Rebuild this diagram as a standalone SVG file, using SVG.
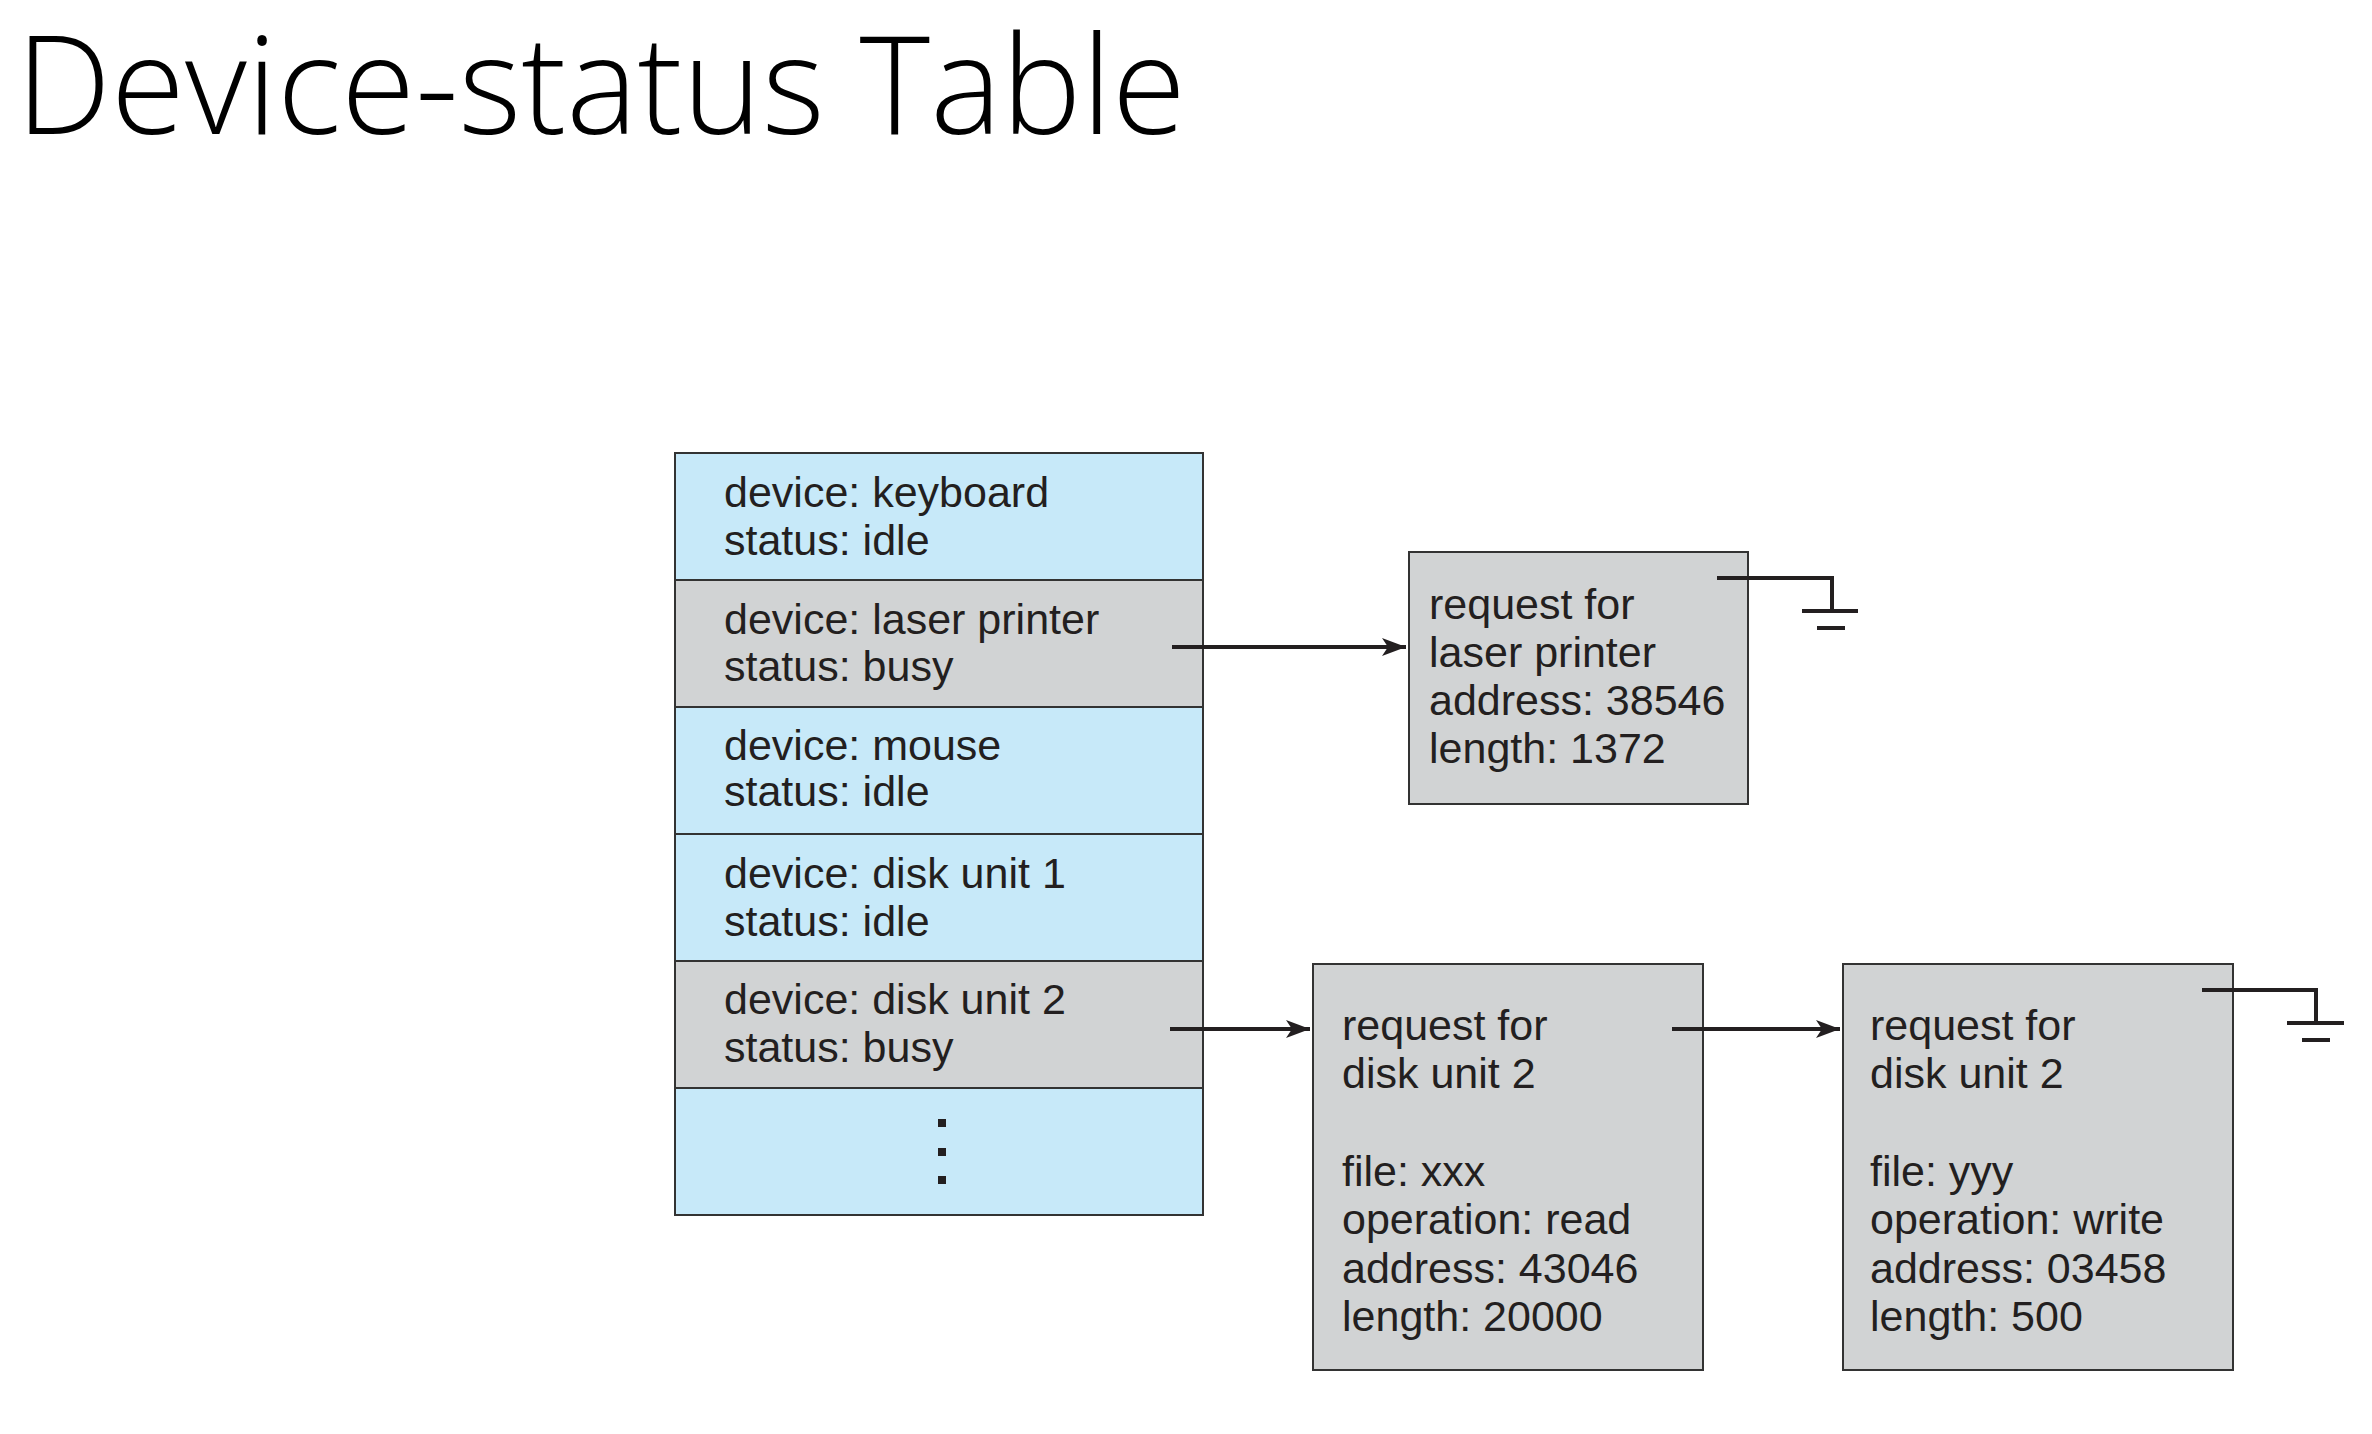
<svg xmlns="http://www.w3.org/2000/svg" width="2372" height="1434" viewBox="0 0 2372 1434">
<style>
.t{font-family:"Liberation Sans",Arial,sans-serif;font-size:43px;fill:#231f20}
.blue{fill:#c7e9f9;stroke:#333;stroke-width:2}
.gray{fill:#d1d3d4;stroke:#333;stroke-width:2}
.ln{stroke:#231f20;stroke-width:4;fill:none}
.title{font-family:"Open Sans","Liberation Sans",sans-serif;font-weight:300;font-size:136px;fill:#000}
</style>
<defs>
<marker id="ah" markerUnits="userSpaceOnUse" markerWidth="28" markerHeight="22" refX="24" refY="10" orient="auto">
<path d="M0,1 L24,10 L0,19 L6,10 z" fill="#231f20"/>
</marker>
</defs>
<rect width="2372" height="1434" fill="#fff"/>
<text class="title" x="16" y="134" textLength="1170" lengthAdjust="spacingAndGlyphs">Device-status Table</text>

<g id="table">
<g id="row-keyboard"><rect class="blue" x="675" y="453" width="528" height="127"/>
<text class="t" x="724" y="507">device: keyboard</text><text class="t" x="724" y="555">status: idle</text></g>
<g id="row-laser"><rect class="gray" x="675" y="580" width="528" height="127"/>
<text class="t" x="724" y="634">device: laser printer</text><text class="t" x="724" y="681">status: busy</text></g>
<g id="row-mouse"><rect class="blue" x="675" y="707" width="528" height="127"/>
<text class="t" x="724" y="760">device: mouse</text><text class="t" x="724" y="806">status: idle</text></g>
<g id="row-disk1"><rect class="blue" x="675" y="834" width="528" height="127"/>
<text class="t" x="724" y="888">device: disk unit 1</text><text class="t" x="724" y="936">status: idle</text></g>
<g id="row-disk2"><rect class="gray" x="675" y="961" width="528" height="127"/>
<text class="t" x="724" y="1014">device: disk unit 2</text><text class="t" x="724" y="1062">status: busy</text></g>
<g id="row-more"><rect class="blue" x="675" y="1088" width="528" height="127"/>
<rect x="938" y="1119" width="8" height="8" fill="#231f20"/>
<rect x="938" y="1148" width="8" height="8" fill="#231f20"/>
<rect x="938" y="1176" width="8" height="8" fill="#231f20"/></g>
</g>

<g id="req-laser">
<rect class="gray" x="1409" y="552" width="339" height="252"/>
<text class="t" x="1429" y="619">request for</text>
<text class="t" x="1429" y="667">laser printer</text>
<text class="t" x="1429" y="715">address: 38546</text>
<text class="t" x="1429" y="763">length: 1372</text>
</g>

<g id="req-disk-1">
<rect class="gray" x="1313" y="964" width="390" height="406"/>
<text class="t" x="1342" y="1040">request for</text>
<text class="t" x="1342" y="1088">disk unit 2</text>
<text class="t" x="1342" y="1186">file: xxx</text>
<text class="t" x="1342" y="1234">operation: read</text>
<text class="t" x="1342" y="1283">address: 43046</text>
<text class="t" x="1342" y="1331">length: 20000</text>
</g>

<g id="req-disk-2">
<rect class="gray" x="1843" y="964" width="390" height="406"/>
<text class="t" x="1870" y="1040">request for</text>
<text class="t" x="1870" y="1088">disk unit 2</text>
<text class="t" x="1870" y="1186">file: yyy</text>
<text class="t" x="1870" y="1234">operation: write</text>
<text class="t" x="1870" y="1283">address: 03458</text>
<text class="t" x="1870" y="1331">length: 500</text>
</g>

<g id="connectors">
<line class="ln" x1="1172" y1="647" x2="1406" y2="647" marker-end="url(#ah)"/>
<line class="ln" x1="1170" y1="1029" x2="1310" y2="1029" marker-end="url(#ah)"/>
<line class="ln" x1="1672" y1="1029" x2="1840" y2="1029" marker-end="url(#ah)"/>
<g id="null-1">
<polyline class="ln" points="1717,578 1832,578 1832,611"/>
<line class="ln" x1="1802" y1="611" x2="1858" y2="611"/>
<line class="ln" x1="1817" y1="628" x2="1845" y2="628"/>
</g>
<g id="null-2">
<polyline class="ln" points="2202,990 2316,990 2316,1023"/>
<line class="ln" x1="2287" y1="1023" x2="2344" y2="1023"/>
<line class="ln" x1="2302" y1="1040" x2="2330" y2="1040"/>
</g>
</g>
</svg>
